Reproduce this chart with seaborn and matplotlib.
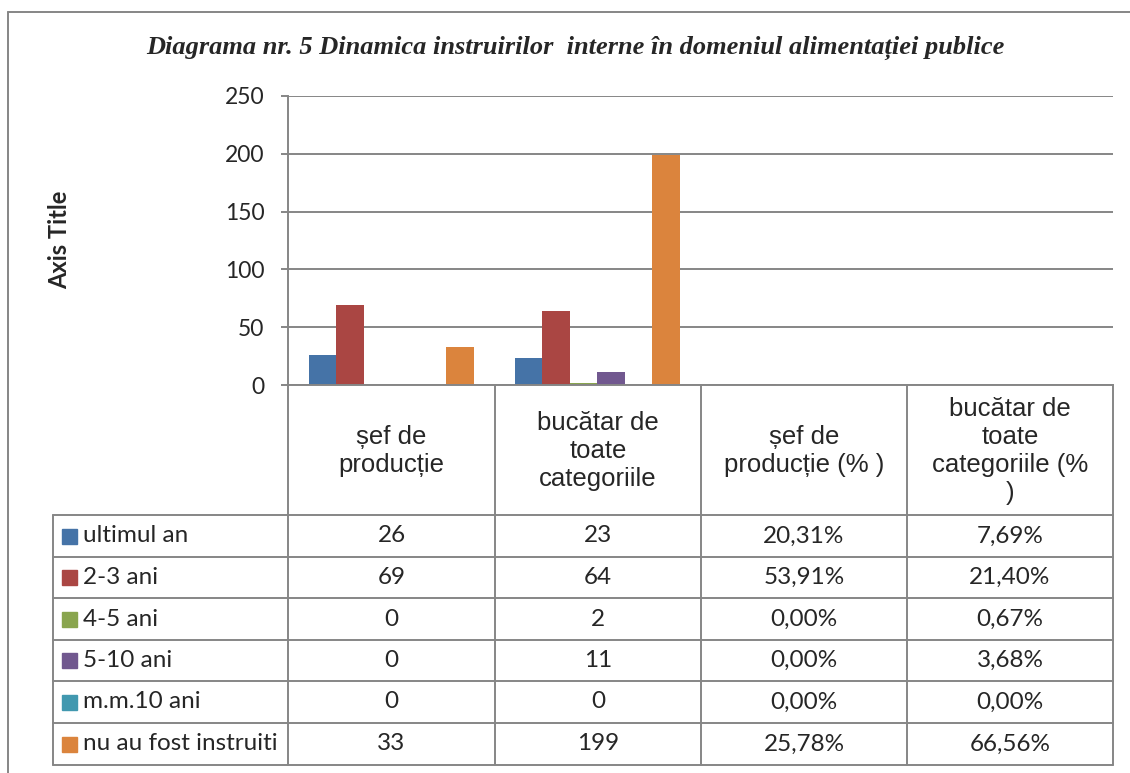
import pandas as pd
import matplotlib
matplotlib.use('Agg')
import matplotlib.pyplot as plt
import seaborn as sns
from matplotlib.lines import Line2D
from matplotlib.patches import Rectangle

# chart data (percent columns are stored as fractions, like in the source sheet)
categories = ['șef de\nproducție', 'bucătar de\ntoate\ncategoriile',
              'șef de\nproducție (% )', 'bucătar de\ntoate\ncategoriile (%\n)']
is_percent = [False, False, True, True]
series = ['ultimul an', '2-3 ani', '4-5 ani', '5-10 ani', 'm.m.10 ani', 'nu au fost instruiti']
ultimul_an = [26, 23, 0.2031, 0.0769]
ani_2_3 = [69, 64, 0.5391, 0.2140]
ani_4_5 = [0, 2, 0.0, 0.0067]
ani_5_10 = [0, 11, 0.0, 0.0368]
mm_10_ani = [0, 0, 0.0, 0.0]
nu_instruiti = [33, 199, 0.2578, 0.6656]
colors = ['#4573A7', '#AA4643', '#89A54E', '#71588F', '#4198AF', '#DB843D']

values = [ultimul_an, ani_2_3, ani_4_5, ani_5_10, mm_10_ani, nu_instruiti]
rows = []
for s, vals in zip(series, values):
    for c, v in zip(categories, vals):
        rows.append({'cat': c, 'serie': s, 'val': v})
df = pd.DataFrame(rows)

W, H = 1130, 773
def fx(px):
    return px / W
def fy(py):
    return 1 - py / H

grey = '#868686'
calibri = 'Lato'
arial = 'Liberation Sans'

sns.set_style('white')
fig = plt.figure(figsize=(W / 100, H / 100), dpi=100)

# plot area
x0, x1, ytop, ybot = 288, 1113, 96, 385
ax = fig.add_axes([fx(x0), fy(ybot), (x1 - x0) / W, (ybot - ytop) / H])
sns.barplot(data=df, x='cat', y='val', hue='serie', order=categories, hue_order=series,
            palette=colors, saturation=1, width=0.8, gap=0, linewidth=0,
            legend=False, ax=ax)
ax.set_xlim(-0.5, 3.5)
ax.set_ylim(0, 250)
ax.set_yticks(range(0, 251, 50))
ax.set_xticks([])
ax.set_xlabel('')
ax.set_ylabel('')
ax.yaxis.grid(True, color=grey, lw=1.4)
ax.set_axisbelow(True)
for sp in ['top', 'right']:
    ax.spines[sp].set_visible(False)
for sp in ['left', 'bottom']:
    ax.spines[sp].set_color(grey)
    ax.spines[sp].set_linewidth(1.4)
ax.tick_params(axis='y', left=True, length=5, width=1.4, color=grey, pad=12, labelsize=16.5)
for lab in ax.get_yticklabels():
    lab.set_fontfamily(calibri)

# title and axis title
fig.text(fx(575), fy(48), 'Diagrama nr. 5 Dinamica instruirilor  interne în domeniul alimentației publice',
         ha='center', va='center', fontsize=19, fontweight='bold', fontstyle='italic',
         family='Liberation Serif')
fig.text(fx(60), fy(240), 'Axis Title', rotation=90, ha='center', va='center',
         fontsize=17, fontweight='bold', family=calibri)

# outer chart frame
fig.add_artist(Line2D([fx(8), fx(8)], [fy(12), 0], color=grey, lw=1.4))
fig.add_artist(Line2D([fx(8), 1], [fy(12), fy(12)], color=grey, lw=1.4))

# data table
col_edges = [288, 495, 701, 907, 1113]
row_edges = [515, 557, 598, 640, 681, 723, 765]
tab_left = 53
for xe in col_edges:
    fig.add_artist(Line2D([fx(xe), fx(xe)], [fy(385), fy(765)], color=grey, lw=1.4))
fig.add_artist(Line2D([fx(tab_left), fx(tab_left)], [fy(515), fy(765)], color=grey, lw=1.4))
for ye in row_edges:
    fig.add_artist(Line2D([fx(tab_left), fx(1113)], [fy(ye), fy(ye)], color=grey, lw=1.4))

# header cells
for i, c in enumerate(categories):
    cx = (col_edges[i] + col_edges[i + 1]) / 2
    fig.text(fx(cx), fy(451), c, ha='center', va='center', fontsize=18.5,
             family=arial, linespacing=1.2)

# body rows
for r, (s, vals, col) in enumerate(zip(series, values, colors)):
    cy = (row_edges[r] + row_edges[r + 1]) / 2
    fig.add_artist(Rectangle((fx(62), fy(cy + 7.5)), 15 / W, 15 / H, color=col))
    fig.text(fx(83), fy(cy), s, ha='left', va='center', fontsize=17.5, family=calibri)
    for i, v in enumerate(vals):
        cx = (col_edges[i] + col_edges[i + 1]) / 2
        if is_percent[i]:
            txt = f'{v * 100:.2f}%'.replace('.', ',')
        else:
            txt = str(int(v))
        fig.text(fx(cx), fy(cy), txt, ha='center', va='center', fontsize=17.5, family=calibri)

fig.savefig('out.png', dpi=100)
